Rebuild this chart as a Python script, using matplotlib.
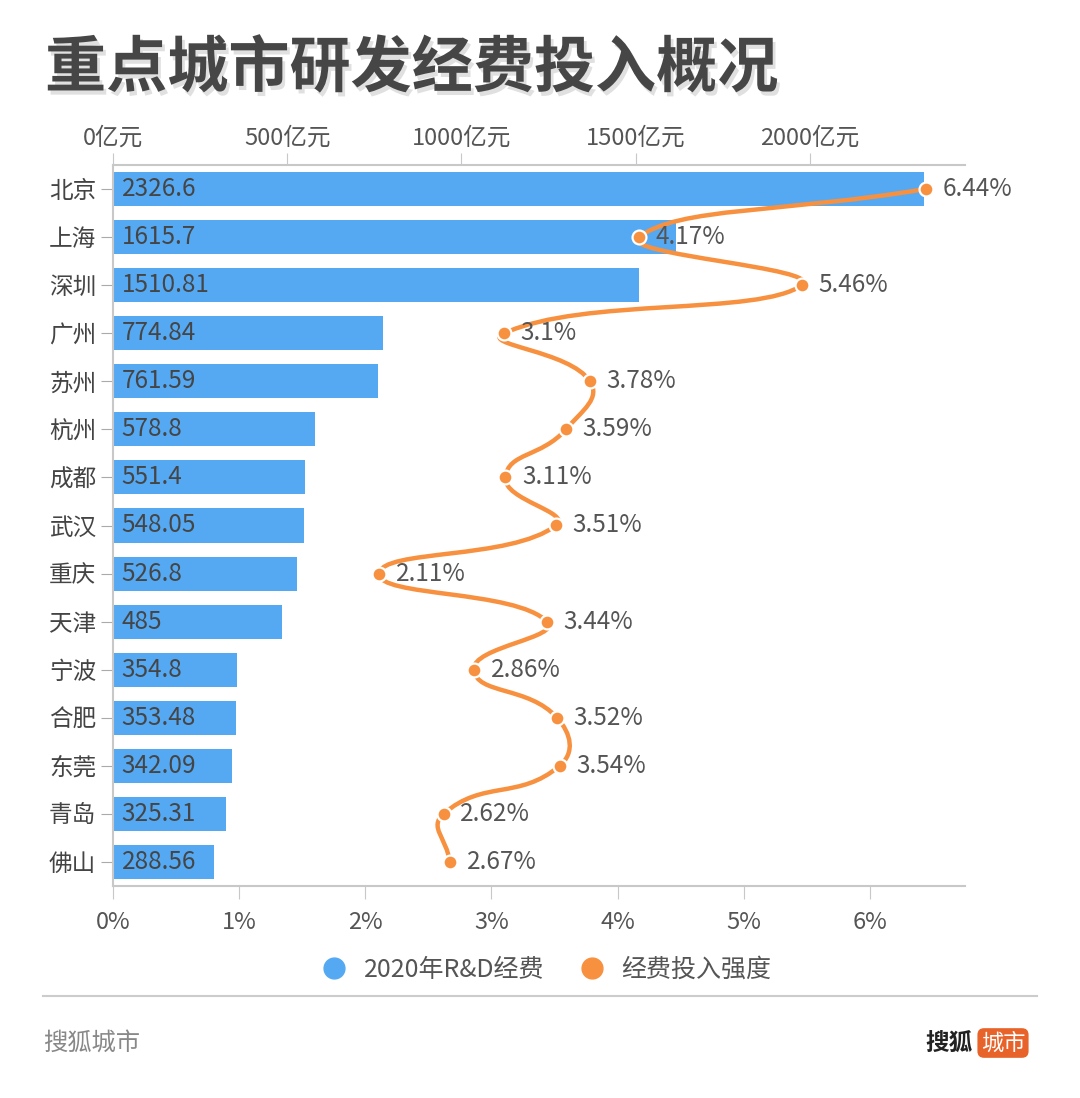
import matplotlib
matplotlib.use('Agg')
import matplotlib.pyplot as plt
import matplotlib.patheffects as pe
from matplotlib.lines import Line2D
from matplotlib.path import Path
from matplotlib.patches import PathPatch
import numpy as np

plt.rcParams['font.family'] = ['Noto Sans CJK SC', 'DejaVu Sans']

# 数据
cities = ['北京', '上海', '深圳', '广州', '苏州', '杭州', '成都', '武汉',
          '重庆', '天津', '宁波', '合肥', '东莞', '青岛', '佛山']
rd_spend = [2326.6, 1615.7, 1510.81, 774.84, 761.59, 578.8, 551.4, 548.05,
            526.8, 485, 354.8, 353.48, 342.09, 325.31, 288.56]
rd_spend_labels = ['2326.6', '1615.7', '1510.81', '774.84', '761.59', '578.8', '551.4', '548.05',
                   '526.8', '485', '354.8', '353.48', '342.09', '325.31', '288.56']
intensity = [6.44, 4.17, 5.46, 3.1, 3.78, 3.59, 3.11, 3.51,
             2.11, 3.44, 2.86, 3.52, 3.54, 2.62, 2.67]
intensity_labels = ['6.44%', '4.17%', '5.46%', '3.1%', '3.78%', '3.59%', '3.11%', '3.51%',
                    '2.11%', '3.44%', '2.86%', '3.52%', '3.54%', '2.62%', '2.67%']
top_ticks = [0, 500, 1000, 1500, 2000]
top_tick_labels = ['0亿元', '500亿元', '1000亿元', '1500亿元', '2000亿元']
bottom_ticks = [0, 1, 2, 3, 4, 5, 6]
bottom_tick_labels = ['0%', '1%', '2%', '3%', '4%', '5%', '6%']

BLUE = '#55a9f3'
ORANGE = '#f7913f'
TEXT = '#555555'
GRID = '#c8c8c8'

fig = plt.figure(figsize=(10.8, 10.98), dpi=100)
ax = fig.add_axes([113 / 1080, 1 - 886 / 1098, 852 / 1080, 721 / 1098])
ax2 = ax.twiny()

y = np.arange(len(cities))

# 柱状图 (上轴)
ax.barh(y, rd_spend, height=0.71, color=BLUE, zorder=2)
for yi, lab in zip(y, rd_spend_labels):
    ax.text(25, yi, lab, va='center', ha='left', fontsize=17.5, color='#454545', zorder=3)

ax.set_xlim(0, 2445)
ax.set_ylim(len(cities) - 0.5, -0.5)
ax.set_yticks(y)
ax.set_yticklabels(cities, fontsize=17, color='#444444')
ax.xaxis.tick_top()
ax.set_xticks(top_ticks)
ax.set_xticklabels(top_tick_labels, fontsize=17, color=TEXT)
ax.tick_params(axis='x', length=9, color=GRID, pad=2)
ax.tick_params(axis='y', length=9, color='#aaaaaa', pad=3)
for s in ['right', 'bottom']:
    ax.spines[s].set_visible(False)
ax.spines['top'].set_color(GRID)
ax.spines['left'].set_color(GRID)
ax.spines['top'].set_linewidth(1.5)
ax.spines['left'].set_linewidth(1.5)

# 折线 (下轴)
ax2.set_xlim(0, 6.753)
ax2.xaxis.tick_bottom()
ax2.set_xticks(bottom_ticks)
ax2.set_xticklabels(bottom_tick_labels, fontsize=17, color=TEXT)
ax2.tick_params(axis='x', length=9, color=GRID, pad=9)
for s in ['right', 'top', 'left']:
    ax2.spines[s].set_visible(False)
ax2.spines['bottom'].set_color(GRID)
ax2.spines['bottom'].set_linewidth(1.5)

# 平滑曲线: 三次贝塞尔, 控制点在像素坐标中计算
pts = ax2.transData.transform(np.column_stack([intensity, y]))
smooth = 0.5
cp0 = np.zeros_like(pts)
cp1 = np.zeros_like(pts)
n = len(pts)
for i in range(n):
    prev = pts[i - 1] if i > 0 else pts[i]
    nxt = pts[i + 1] if i < n - 1 else pts[i]
    v = (nxt - prev) * smooth
    d0 = np.hypot(*(pts[i] - prev))
    d1 = np.hypot(*(pts[i] - nxt))
    tot = d0 + d1
    if tot > 0:
        d0, d1 = d0 / tot, d1 / tot
    cp0[i] = pts[i] - v * d0
    cp1[i] = pts[i] + v * d1
verts = [pts[0]]
codes = [Path.MOVETO]
for i in range(n - 1):
    verts += [cp1[i], cp0[i + 1], pts[i + 1]]
    codes += [Path.CURVE4] * 3
inv = ax2.transData.inverted()
path = Path(inv.transform(np.array(verts)), codes)
ax2.add_patch(PathPatch(path, facecolor='none', edgecolor=ORANGE, lw=3.2, zorder=4,
                        capstyle='round', joinstyle='round'))
ax2.plot(intensity, y, 'o', color=ORANGE, markersize=10, markeredgecolor='white',
         markeredgewidth=1.6, zorder=5)
for xi, yi, lab in zip(intensity, y, intensity_labels):
    ax2.annotate(lab, (xi, yi), xytext=(12, 0), textcoords='offset points',
                 va='center', ha='left', fontsize=17.5, color=TEXT, zorder=6)

# 标题
fig.text(45 / 1080, 1 - 69 / 1098, '重点城市研发经费投入概况', fontsize=44, fontweight='bold',
         color='#464646', va='center', ha='left',
         path_effects=[pe.withSimplePatchShadow(offset=(2, -3), shadow_rgbFace='#999999', alpha=0.3)])

# 图例
handles = [Line2D([], [], marker='o', linestyle='', markersize=15, color=BLUE),
           Line2D([], [], marker='o', linestyle='', markersize=15, color=ORANGE)]
fig.legend(handles, ['2020年R&D经费', '经费投入强度'], loc='center', ncol=2,
           bbox_to_anchor=(540 / 1080, 1 - 970 / 1098), frameon=False, fontsize=18,
           handletextpad=0.2, columnspacing=0.9, labelcolor=TEXT)

# 分隔线与页脚
fig.add_artist(Line2D([43 / 1080, 1037 / 1080], [1 - 996 / 1098] * 2, color='#cccccc', lw=1.5))
fig.text(43 / 1080, 1 - 1043 / 1098, '搜狐城市', fontsize=17.5, color='#888888', va='center', ha='left')
fig.text(973 / 1080, 1 - 1043 / 1098, '搜狐', fontsize=17, fontweight='bold', color='#222222',
         va='center', ha='right')
fig.text(1003 / 1080, 1 - 1043 / 1098, '城市', fontsize=16, color='white', va='center', ha='center',
         bbox=dict(boxstyle='round,pad=0.15,rounding_size=0.3', facecolor='#e8632a', edgecolor='none'))

fig.savefig('out.png', dpi=100, facecolor='white')
